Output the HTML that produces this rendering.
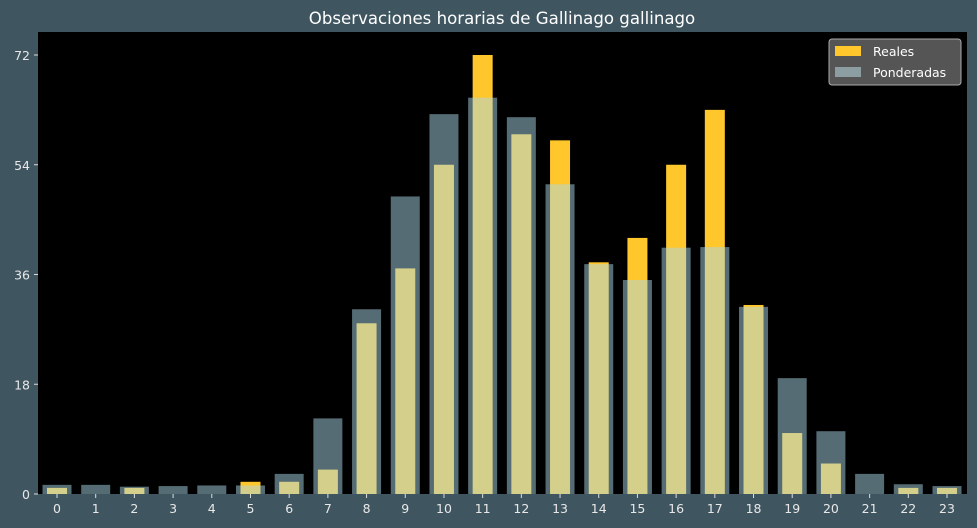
<!DOCTYPE html>
<html><head><meta charset="utf-8"><style>
body{margin:0;background:#3f5560;}
svg{display:block;font-family:"DejaVu Sans","Liberation Sans",sans-serif;}
</style></head><body>
<svg id="c" width="977" height="528">
<rect x="0" y="0" width="977" height="528" fill="#3f5560"/>
<text x="502" y="24" text-anchor="middle" fill="#ffffff" font-size="16.6">Observaciones horarias de Gallinago gallinago</text>
<rect x="38" y="32" width="929" height="462" fill="#000"/>
<g id="bars"></g><g id="axes"></g>
<g>
<rect x="829" y="39" width="132" height="46" rx="3" fill="#555" stroke="#aaa" stroke-width="1"/>
<rect x="835" y="46" width="26" height="10" fill="#ffc72c"/>
<text x="873" y="56" fill="#fff" font-size="12.5">Reales</text>
<rect x="835" y="67" width="26" height="10" fill="#8d9ea2"/>
<text x="873" y="77" fill="#fff" font-size="12.5">Ponderadas</text>
</g>
</svg>
<script>
const hours=[0,1,2,3,4,5,6,7,8,9,10,11,12,13,14,15,16,17,18,19,20,21,22,23];
const reales=[1,0,1,0,0,2,2,4,28,37,54,72,59,58,38,42,54,63,31,10,5,0,1,1];
const ponderadas=[1.5,1.5,1.2,1.3,1.4,1.4,3.3,12.4,30.3,48.8,62.3,65,61.8,50.8,37.7,35.1,40.4,40.5,30.7,19,10.3,3.3,1.6,1.3];
const yTicks=[0,18,36,54,72];
const NS="http://www.w3.org/2000/svg";
const x=i=>57+i*(890/23);
const y=v=>494-v*(439/72);
const bars=document.getElementById('bars'),axes=document.getElementById('axes');
function mk(t,a,p){const e=document.createElementNS(NS,t);for(const k in a)e.setAttribute(k,a[k]);p.appendChild(e);return e;}
hours.forEach((h,i)=>{
 const r=mk('rect',{x:x(i)-10,y:y(reales[i]),width:20,height:494-y(reales[i]),fill:'#ffc72c'},bars);
 
 
});
hours.forEach((h,i)=>{
 const r=mk('rect',{x:x(i)-14.5,y:y(ponderadas[i]),width:29,height:494-y(ponderadas[i]),fill:'rgba(169,215,232,0.5)'},bars);
 
 
});
hours.forEach((h,i)=>{
 mk('line',{x1:x(i),x2:x(i),y1:494,y2:498,stroke:'#ddd'},axes);
 const t=mk('text',{x:x(i),y:513,'text-anchor':'middle',fill:'#e8e8e8','font-size':12.5},axes);
 t.textContent=h;
 
 
});
yTicks.forEach(v=>{
 mk('line',{x1:34,x2:38,y1:y(v),y2:y(v),stroke:'#ddd'},axes);
 const t=mk('text',{x:30,y:y(v)+5,'text-anchor':'end',fill:'#e8e8e8','font-size':12.5},axes);
 t.textContent=v;
 
 
});
</script>
</body></html>
